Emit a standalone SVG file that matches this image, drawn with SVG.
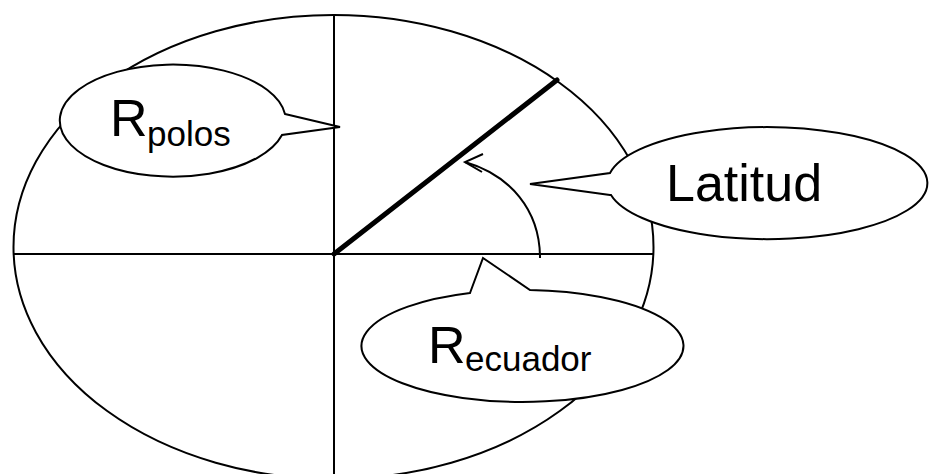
<svg xmlns="http://www.w3.org/2000/svg" width="936" height="474" viewBox="0 0 936 474">
<style>
.ln{fill:none;stroke:#000;stroke-width:2}
.co{fill:#fff;stroke:#000;stroke-width:2;stroke-linejoin:miter}
.big{font-family:"Liberation Sans",Arial,sans-serif;font-size:52px;fill:#000}
.sub{font-family:"Liberation Sans",Arial,sans-serif;font-size:35px;fill:#000}
</style>
<g id="earth">
<ellipse class="ln" cx="333.5" cy="247" rx="320" ry="232"/>
</g>
<g id="connectors">
<line class="ln" x1="334" y1="15" x2="334" y2="474"/>
<line class="ln" x1="14" y1="254" x2="653" y2="254"/>
<line x1="334" y1="254" x2="557" y2="80" stroke="#000" stroke-width="5" stroke-linecap="round"/>
<path class="ln" d="M540,258 C540,210 510,175 465,162"/>
<path class="ln" d="M483,154 L465,162 L482,172"/>
</g>
<g id="rpolos">
<path class="co" d="M285,114 L340,127 L282,135 A113,56 0 1 1 285,114 Z"/>
<text class="big" x="110" y="136">R</text><text class="sub" x="147" y="146">polos</text>
</g>
<g id="latitud">
<path class="co" d="M610,195 L530,184 L610,173 A160,56 0 1 1 611,195 Z"/>
<text class="big" x="666" y="201">Latitud</text>
</g>
<g id="recuador">
<path class="co" d="M470,293 L483,258 L530,290 A161,56 0 1 1 470,293 Z"/>
<text class="big" x="428" y="363">R</text><text class="sub" x="465" y="371">ecuador</text>
</g>
</svg>
